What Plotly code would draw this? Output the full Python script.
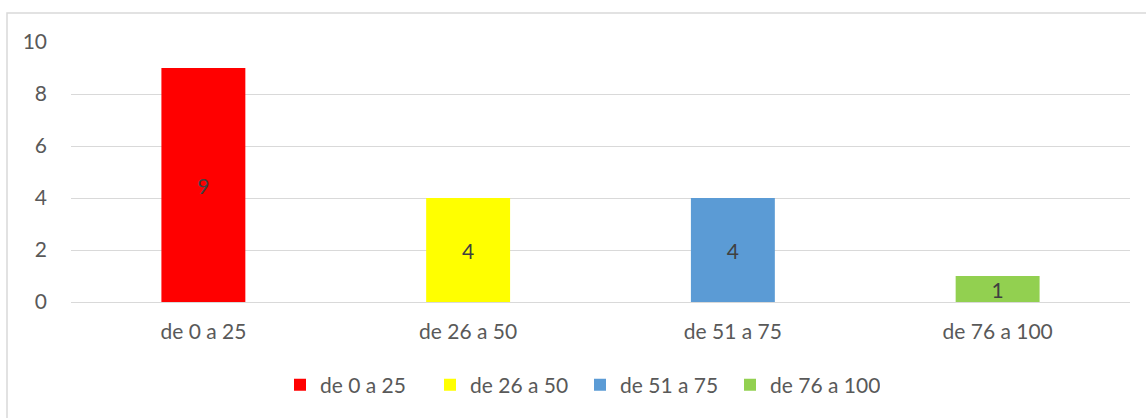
import plotly.graph_objects as go

categories = ["de 0 a 25", "de 26 a 50", "de 51 a 75", "de 76 a 100"]
values = [9, 4, 4, 1]
colors = ["#FF0000", "#FFFF00", "#5B9BD5", "#92D050"]
y_ticks = [0, 2, 4, 6, 8, 10]

FONT = "Lato, 'Open Sans', sans-serif"
FS = 21

fig = go.Figure()
for cat, val, col in zip(categories, values, colors):
    fig.add_trace(go.Bar(
        x=[cat], y=[val], name=cat, marker=dict(color=col, line=dict(width=0)),
        width=0.317, text=[str(val)], textposition="inside",
        insidetextanchor="middle", textangle=0,
        textfont=dict(family=FONT, size=FS, color="#404040"),
        constraintext="none", hoverinfo="x+y",
    ))

L, R, T, B = 71, 16, 42, 116
W, H = 1146, 418
pw, ph = W - L - R, H - T - B

fig.update_layout(
    width=W, height=H, barmode="overlay",
    margin=dict(l=L, r=R, t=T, b=B),
    paper_bgcolor="white", plot_bgcolor="white",
    font=dict(family=FONT, size=FS, color="#595959"),
    showlegend=True,
    legend=dict(orientation="h", x=(280 - L) / pw, xanchor="left",
                y=-(385 - (T + ph)) / ph, yanchor="middle",
                font=dict(size=FS, color="#595959"), itemwidth=30,
                entrywidth=105, entrywidthmode="pixels",
                traceorder="normal"),
    xaxis=dict(type="category", showgrid=False, showline=False, ticks="",
               tickfont=dict(size=FS, color="#595959"), ticklabelstandoff=15),
    yaxis=dict(range=[0, 10], tickvals=y_ticks, showgrid=True, gridcolor="#D9D9D9",
               gridwidth=1, zeroline=True, zerolinecolor="#D9D9D9", zerolinewidth=1,
               showline=False, ticks="", tickfont=dict(size=FS, color="#595959"),
               ticklabelstandoff=23),
    shapes=[dict(type="rect", xref="paper", yref="paper",
                 x0=(7 - L) / pw, x1=(W + 10 - L) / pw,
                 y0=-(H + 10 - (T + ph)) / ph, y1=(T + ph - 13) / ph,
                 line=dict(color="#D9D9D9", width=1.5), fillcolor="rgba(0,0,0,0)",
                 layer="below")],
)

fig.write_html("out.html", config={"displayModeBar": False},
               post_script="document.body.style.margin='0';document.body.style.overflow='hidden';")
